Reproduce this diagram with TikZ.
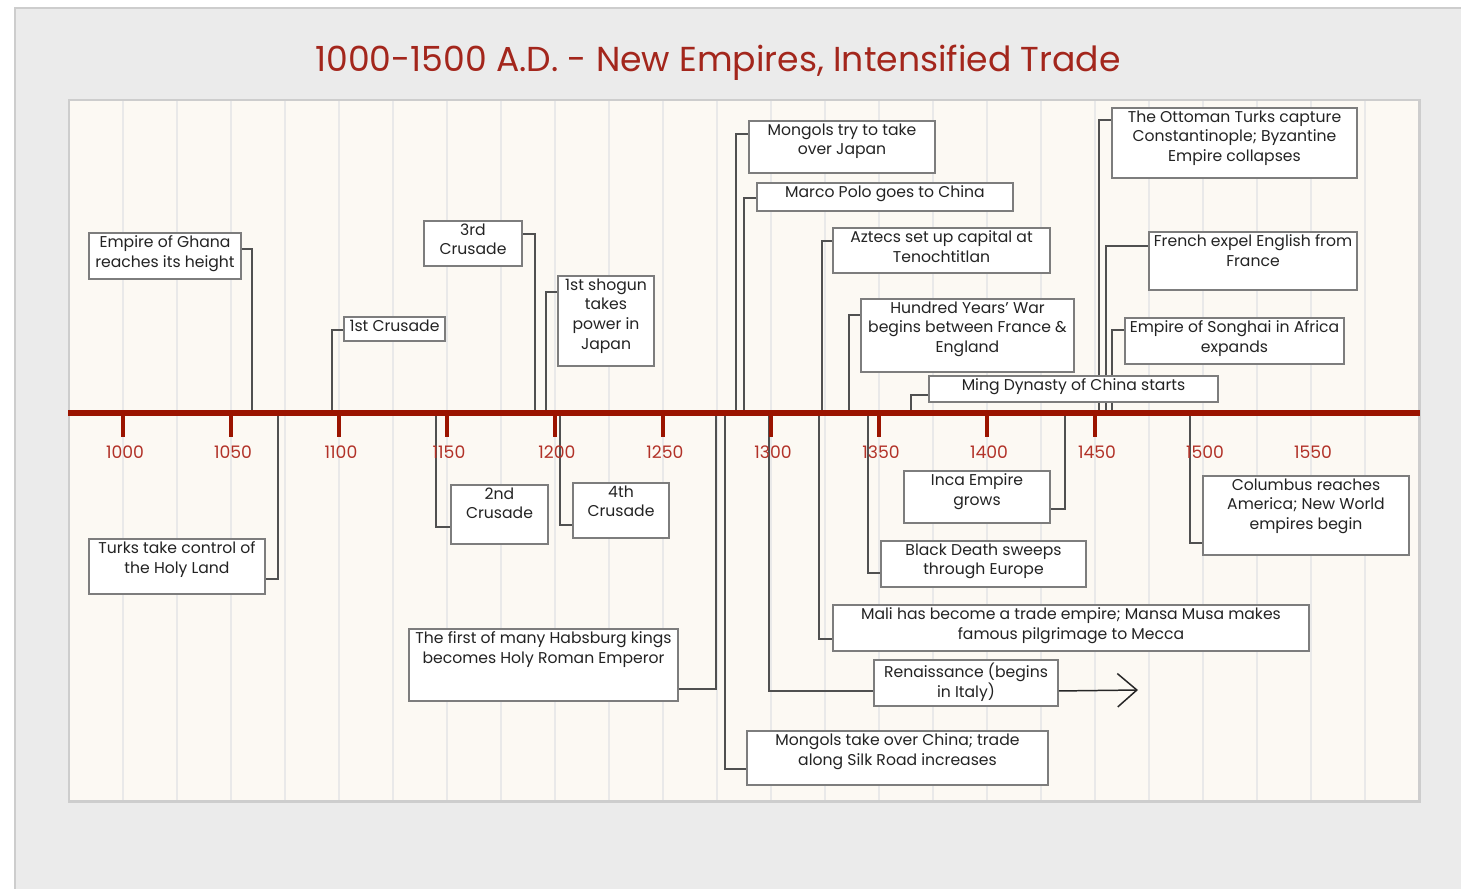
\documentclass[tikz,border=0pt]{standalone}
\usepackage{fontspec}
\setmainfont{Poppins}
\usetikzlibrary{arrows.meta}
\definecolor{panelgray}{RGB}{235,235,235}
\definecolor{edgegray}{RGB}{205,205,205}
\definecolor{cream}{RGB}{252,249,243}
\definecolor{stripegray}{RGB}{233,233,233}
\definecolor{axisred}{RGB}{155,20,0}
\definecolor{yearred}{RGB}{178,50,40}
\definecolor{titlered}{RGB}{163,38,28}
\definecolor{boxgray}{RGB}{125,125,125}
\definecolor{linkgray}{RGB}{80,80,80}
\definecolor{inkgray}{RGB}{35,35,35}
\pgfdeclarelayer{background}
\pgfdeclarelayer{links}
\pgfsetlayers{background,links,main}
\newcommand*{\xLeft}{69}
\newcommand*{\xRight}{1419}
\newcommand*{\yTop}{100}
\newcommand*{\yBottom}{801}
\newcommand*{\yAxis}{413}
\newcommand\EventBox[6]{
	\node [event, minimum width={(#4-#2)*0.02cm}, minimum height={(#5-#3)*0.02cm}] (#1) at ({(#2+#4)/2},{(#3+#5)/2}) {};
	\node [eventtext] at (#1.north) {#6};
}
\newcommand\Mark[5]{
	\coordinate (#1-on) at (#5,\yAxis);
	\begin{pgfonlayer}{links}
		\draw [link] (#1.#2 #3) ++(0,#4) -| (#1-on);
	\end{pgfonlayer}
}

\begin{document}
\begin{tikzpicture}[x=0.02cm, y=-0.02cm,
	event/.style={draw=boxgray, fill=white, line width=1.1pt, inner sep=0pt},
	eventtext/.style={anchor=north, inner sep=1.8pt, align=center, text=inkgray, font=\fontsize{8.9}{11.3}\selectfont},
	link/.style={draw=linkgray, line width=0.85pt},
	axis/.style={draw=axisred, line width=3.4pt},
	tick/.style={draw=axisred, line width=2.5pt},
	year/.style={text=yearred, font=\fontsize{9.8}{11}\selectfont},
	stripe/.style={draw=stripegray, line width=1.6pt}]
	\useasboundingbox (0,0) rectangle (1461,889);
	\begin{pgfonlayer}{background}
		\path [fill=panelgray] (14,8) rectangle (1461,889);
		\path [draw=edgegray, line width=1.2pt] (15,889) -- (15,8) -- (1461,8);
		\path [fill=cream, draw=edgegray, line width=1.7pt] (\xLeft,\yTop) rectangle (\xRight,\yBottom);
		\foreach \k in {0,1,...,23}
		{
			\draw [stripe] (123+54*\k,\yTop+1) -- (123+54*\k,\yBottom-1);
		}
	\end{pgfonlayer}
	\node [text=titlered, font=\fontsize{19.7}{23}\selectfont] (title) at (718,63) {1000-1500 A.D. - New Empires, Intensified Trade};

	\EventBox{ghana}{89}{233}{241}{279}{Empire of Ghana\\reaches its height}
	\EventBox{crusadeI}{344}{317}{445}{341}{1st Crusade}
	\EventBox{crusadeIII}{424}{221}{522}{266}{3rd\\Crusade}
	\EventBox{shogun}{558}{276}{654}{366}{1st shogun\\takes\\power in\\Japan}
	\EventBox{mongolsjp}{749}{121}{935}{173}{Mongols try to take\\over Japan}
	\EventBox{marcopolo}{757}{183}{1013}{211}{Marco Polo goes to China}
	\EventBox{aztecs}{833}{228}{1050}{273}{Aztecs set up capital at\\Tenochtitlan}
	\EventBox{hundred}{861}{299}{1074}{372}{Hundred Years’ War\\begins between France \&\\England}
	\EventBox{ming}{929}{376}{1218}{402}{Ming Dynasty of China starts}
	\EventBox{ottoman}{1112}{108}{1357}{178}{The Ottoman Turks capture\\Constantinople; Byzantine\\Empire collapses}
	\EventBox{french}{1149}{232}{1357}{290}{French expel English from\\France}
	\EventBox{songhai}{1125}{318}{1344}{364}{Empire of Songhai in Africa\\expands}
	\EventBox{turks}{89}{539}{265}{594}{Turks take control of\\the Holy Land}
	\EventBox{crusadeII}{451}{485}{548}{544}{2nd\\Crusade}
	\EventBox{crusadeIV}{573}{483}{669}{538}{4th\\Crusade}
	\EventBox{inca}{904}{471}{1050}{523}{Inca Empire\\grows}
	\EventBox{blackdeath}{881}{541}{1086}{587}{Black Death sweeps\\through Europe}
	\EventBox{columbus}{1203}{476}{1409}{555}{Columbus reaches\\America; New World\\empires begin}
	\EventBox{mali}{833}{605}{1309}{651}{Mali has become a trade empire; Mansa Musa makes\\famous pilgrimage to Mecca}
	\EventBox{renaissance}{874}{660}{1058}{706}{Renaissance (begins\\in Italy)}
	\EventBox{habsburg}{409}{629}{678}{701}{The first of many Habsburg kings\\becomes Holy Roman Emperor}
	\EventBox{mongolscn}{747}{731}{1048}{785}{Mongols take over China; trade\\along Silk Road increases}

	\Mark{ghana}{north}{east}{17}{252}
	\Mark{crusadeI}{north}{west}{14}{332}
	\Mark{crusadeIII}{north}{east}{14}{535}
	\Mark{shogun}{north}{west}{17}{546}
	\Mark{mongolsjp}{north}{west}{14}{736}
	\Mark{marcopolo}{north}{west}{16}{744}
	\Mark{aztecs}{north}{west}{14}{822}
	\Mark{hundred}{north}{west}{17}{849}
	\Mark{ming}{north}{west}{20}{911}
	\Mark{ottoman}{north}{west}{13}{1099}
	\Mark{french}{north}{west}{15}{1106}
	\Mark{songhai}{north}{west}{13}{1112}
	\Mark{turks}{south}{east}{-16}{278}
	\Mark{crusadeII}{south}{west}{-18}{436}
	\Mark{crusadeIV}{south}{west}{-14}{560}
	\Mark{inca}{south}{east}{-15}{1065}
	\Mark{blackdeath}{south}{west}{-15}{868}
	\Mark{columbus}{south}{west}{-13}{1190}
	\Mark{mali}{south}{west}{-13}{819}
	\Mark{renaissance}{south}{west}{-16}{769}
	\Mark{habsburg}{south}{east}{-13}{716}
	\Mark{mongolscn}{south}{west}{-17}{725}
	\coordinate (renaissance-tip) at (1138,690);
	\path [draw, link, draw=black!85, -{Straight Barb[length=11pt, width=19pt]}] (renaissance.south east) ++(0,-16) -- (renaissance-tip);

	\coordinate (axis-start) at (68,\yAxis);
	\coordinate (axis-end) at (1420,\yAxis);
	\draw [axis] (axis-start) -- (axis-end);
	\foreach \k in {0,1,...,9}
	{
		\draw [tick] (123+108*\k,\yAxis) -- (123+108*\k,437);
	}
	\foreach \k [evaluate=\k as \yr using int(1000+50*\k)] in {0,1,...,11}
	{
		\node [year] (year-\k) at (125+108*\k,452) {\yr};
	}
\end{tikzpicture}
\end{document}
